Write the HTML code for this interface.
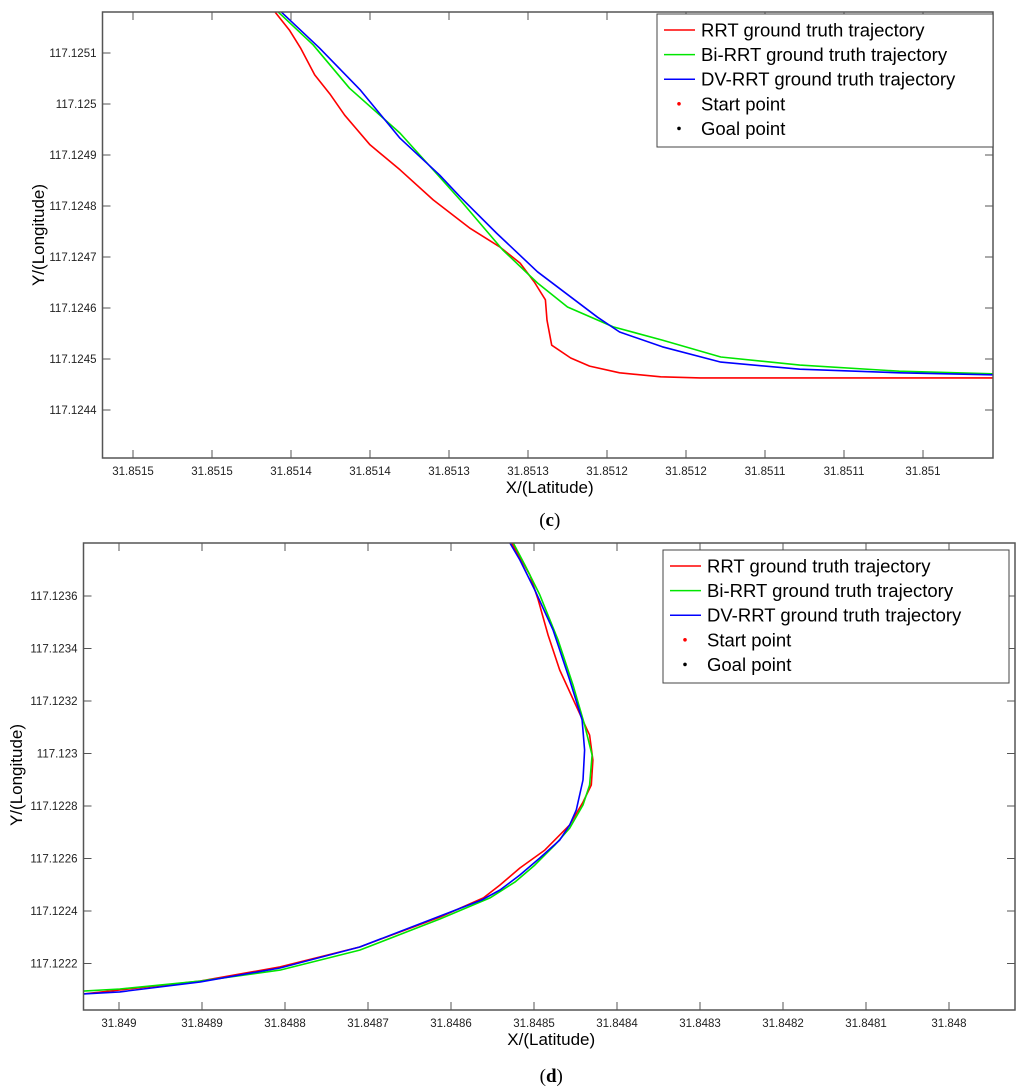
<!DOCTYPE html>
<html><head><meta charset="utf-8"><style>
body{margin:0;background:#fff;}
svg{display:block;font-family:"Liberation Sans",Arial,sans-serif;}
</style></head><body>
<svg id="fig" width="1024" height="1090" viewBox="0 0 1024 1090" xmlns="http://www.w3.org/2000/svg"></svg>
<script>
// ---- Chart (c) data: offsets in micro-degrees (lat from 31.851, lon from 117.124)
const cTickX = [525,475,425,375,325,275,225,175,125,75,25];
const cTickXLabels = ["31.8515","31.8515","31.8514","31.8514","31.8513","31.8513","31.8512","31.8512","31.8511","31.8511","31.851"];
const cTickY = [1100,1000,900,800,700,600,500,400];
const cTickYLabels = ["117.1251","117.125","117.1249","117.1248","117.1247","117.1246","117.1245","117.1244"];
const cRedX = [435,426,419,410,400,391,375,356,335,312,293,280,271,264,263,260,248,236,217,191,166,103,-19];
const cRedY = [1180,1145,1110,1057,1018,978,920,871,812,757,720,688,651,616,576,527,502,486,473,465,463,463,463];
const cGreenX = [433,411,388,356,331,318,291,269,250,221,190,153,103,40,-19];
const cGreenY = [1180,1116,1031,943,857,812,714,649,602,563,537,504,488,476,471];
const cBlueX = [431,407,381,356,331,318,295,269,231,217,190,153,103,40,-19];
const cBlueY = [1180,1110,1027,933,861,818,747,671,582,553,524,494,480,473,469];
// ---- Chart (d) data: offsets in micro-degrees (lat from 31.848, lon from 117.122)
const dTickX = [1000,900,800,700,600,500,400,300,200,100,0];
const dTickXLabels = ["31.849","31.8489","31.8488","31.8487","31.8486","31.8485","31.8484","31.8483","31.8482","31.8481","31.848"];
const dTickY = [1600,1400,1200,1000,800,600,400,200];
const dTickYLabels = ["117.1236","117.1234","117.1232","117.123","117.1228","117.1226","117.1224","117.1222"];
const dRedX = [1043,902,806,710,613,561,541,517,487,457,441,431,429,433,447,469,483,495,505,527];
const dRedY = [84,133,187,263,377,450,499,564,632,728,815,880,975,1070,1166,1318,1451,1585,1680,1802];
const dGreenX = [1043,999,902,806,710,613,553,523,499,475,457,441,433,430,439,453,471,493,511,525];
const dGreenY = [95,103,133,175,251,370,450,510,575,651,716,804,880,994,1109,1261,1432,1604,1718,1802];
const dBlueX = [1043,999,902,806,710,613,563,541,517,493,469,457,449,441,439,442,457,477,499,517,529];
const dBlueY = [84,92,130,183,263,381,442,480,537,602,670,728,785,899,1013,1128,1280,1470,1623,1737,1802];
const legendLabels = ["RRT ground truth trajectory","Bi-RRT ground truth trajectory","DV-RRT ground truth trajectory","Start point","Goal point"];

const NS="http://www.w3.org/2000/svg";
const svg=document.getElementById('fig');
function mk(tag,attrs,parent){const e=document.createElementNS(NS,tag);for(const k in attrs)e.setAttribute(k,attrs[k]);(parent||svg).appendChild(e);return e;}

function chart(cfg){
  const g=mk('g',{});
  
  
  const sx=v=>cfg.x0px+(cfg.x0v-v)*cfg.xs;
  const sy=v=>cfg.y0px+(cfg.y0v-v)*cfg.ys;
  const L=cfg.left,R=cfg.right,T=cfg.top,B=cfg.bottom;
  const clipId=cfg.name+'-clip';
  const cp=mk('clipPath',{id:clipId},g);mk('rect',{x:L,y:T,width:R-L,height:B-T},cp);
  const series=[[cfg.rx,cfg.ry,'#ff0000','red-series'],[cfg.gx,cfg.gy,'#00e600','green-series'],[cfg.bx,cfg.by,'#0000ff','blue-series']];
  for(const [xs,ys,col,nm] of series){
    let d='';for(let i=0;i<xs.length;i++)d+=(i?'L':'M')+sx(xs[i]).toFixed(1)+','+sy(ys[i]).toFixed(1);
    const p=mk('path',{d:d,fill:'none',stroke:col,'stroke-width':1.6,'clip-path':'url(#'+clipId+')','stroke-linejoin':'round'},g);
    
    
  }
  const fr=mk('rect',{x:L,y:T,width:R-L,height:B-T,fill:'none',stroke:'#555','stroke-width':1.5},g);
  
  
  cfg.tx.forEach((v,i)=>{
    const x=sx(v);
    mk('line',{x1:x,y1:B,x2:x,y2:B-8,stroke:'#555','stroke-width':1},g);
    mk('line',{x1:x,y1:T,x2:x,y2:T+8,stroke:'#555','stroke-width':1},g);
    const t=mk('text',{x:x,y:B+17,'text-anchor':'middle','font-size':11.5,fill:'#222'},g);
    t.textContent=cfg.txl[i];
    
    
  });
  cfg.ty.forEach((v,i)=>{
    const y=sy(v);
    mk('line',{x1:L,y1:y,x2:L+8,y2:y,stroke:'#555','stroke-width':1},g);
    mk('line',{x1:R,y1:y,x2:R-8,y2:y,stroke:'#555','stroke-width':1},g);
    const t=mk('text',{x:L-6,y:y+4,'text-anchor':'end','font-size':11.5,fill:'#222'},g);
    t.textContent=cfg.tyl[i];
    
    
  });
  const xt=mk('text',{x:(L+R)/2+2,y:B+35,'text-anchor':'middle','font-size':17,fill:'#000'},g);
  xt.textContent='X/(Latitude)';
  
  
  const yt=mk('text',{x:0,y:0,'text-anchor':'middle','font-size':17,fill:'#000',transform:'translate('+cfg.ylx+','+cfg.yly+') rotate(-90)'},g);
  yt.textContent='Y/(Longitude)';
  
  
  const lg=mk('g',{},g);
  
  
  mk('rect',{x:cfg.lgx,y:cfg.lgy,width:cfg.lgw,height:133,fill:'#fff',stroke:'#444','stroke-width':1},lg);
  const cols=['#ff0000','#00e600','#0000ff','#ff0000','#000'];
  legendLabels.forEach((s,i)=>{
    const y=cfg.lgy+16+i*24.6;
    if(i<3)mk('line',{x1:cfg.lgx+7,y1:y,x2:cfg.lgx+38,y2:y,stroke:cols[i],'stroke-width':1.5},lg);
    else mk('circle',{cx:cfg.lgx+22,cy:y,r:1.8,fill:cols[i]},lg);
    const t=mk('text',{x:cfg.lgx+44,y:y+6.5,'font-size':18.5,fill:'#000'},lg);
    t.textContent=s;
    
    
  });
  const cap=mk('text',{x:(L+R)/2+2,y:cfg.capy,'text-anchor':'middle','font-size':19,fill:'#000','font-family':'Liberation Serif,serif'},g);
  cap.innerHTML='(<tspan font-weight="bold">'+cfg.cap+'</tspan>)';
  
  
}
chart({name:'chart-c',left:102.5,right:993,top:12,bottom:458,x0px:133,x0v:525,xs:1/0.6329,y0px:53,y0v:1100,ys:1/1.9608,
  rx:cRedX,ry:cRedY,gx:cGreenX,gy:cGreenY,bx:cBlueX,by:cBlueY,tx:cTickX,txl:cTickXLabels,ty:cTickY,tyl:cTickYLabels,
  ylx:44,yly:235,lgx:657,lgy:14,lgw:336,capy:526,cap:'c'});
chart({name:'chart-d',left:83.5,right:1015,top:543,bottom:1010,x0px:119,x0v:1000,xs:1/1.2048,y0px:596,y0v:1600,ys:1/3.8095,
  rx:dRedX,ry:dRedY,gx:dGreenX,gy:dGreenY,bx:dBlueX,by:dBlueY,tx:dTickX,txl:dTickXLabels,ty:dTickY,tyl:dTickYLabels,
  ylx:22,yly:775,lgx:663,lgy:550,lgw:346,capy:1082,cap:'d'});
</script>
</body></html>
